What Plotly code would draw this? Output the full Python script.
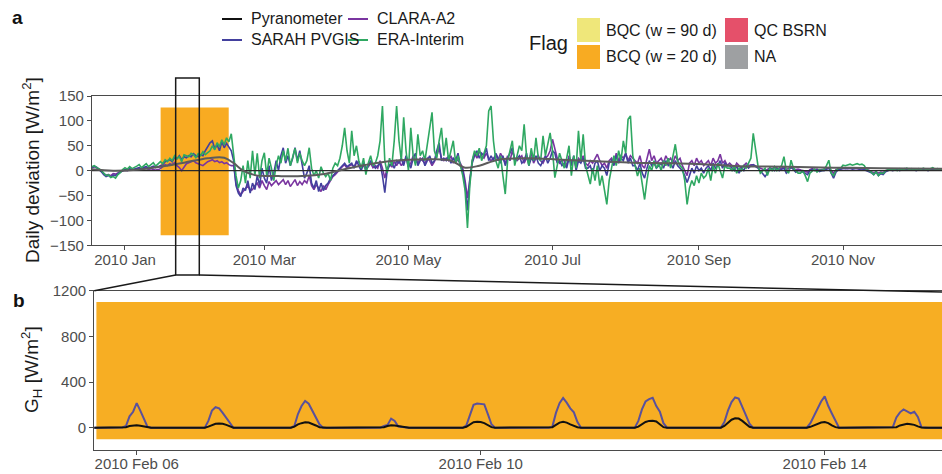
import pandas as pd
import plotly.graph_objects as go

W, H = 942, 474
FONT = "Liberation Sans, Arial, Helvetica, sans-serif"

# ---------------------------------------------------------------------------
# Panel a: daily deviation from the pyranometer [W/m2], one value per day
# starting 2009-12-18
# ---------------------------------------------------------------------------
first_day = "2009-12-18"

era_interim = [
    8, 10, 6, 4, 0, -6, -10, -8, -14, -12,
    -15, -8, -4, 2, 6, 3, 8, 4, 6, 9,
    12, 6, 10, 14, 8, 12, 16, 9, 14, 18,
    14, 22, 18, 25, 20, 30, 24, 28, 18, 32,
    30, 28, 35, 32, 26, 34, 30, 38, 32, 36,
    40, 50, 42, 56, 48, 62, 52, 66, 58, 74,
    30, -10, -35, -20, 10, -25, 20, -15, 40, -10,
    35, -15, 20, 36, -10, 25, 5, -20, 10, 30,
    15, 40, 20, 45, 10, 30, 45, 15, 35, 20,
    10, 20, 46, 5, -10, 0, -15, 8, -5, -12,
    -5, -20, 5, 15, 10, 25, 50, 86, 40, 15,
    80, 30, 50, 20, 5, 25, -8, 15, 30, 10,
    15, 30, 60, 130, 20, -5, 25, 10, 60, 130,
    60, 20, 107, 40, 0, 86, 30, 10, 73, 30,
    40, 20, 50, 80, 117, 40, 25, 60, 86, 30,
    66, 20, 40, 60, 15, 30, 10, -10, -40, -115,
    -30, 20, 40, 30, 45, 20, 35, 50, 120, 130,
    60, 20, 5, 30, -10, -47, 20, 40, 60, 10,
    30, 50, 40, 93, 30, 10, 45, 20, 66, 25,
    20, 70, 30, 55, 76, 40, -14, 10, 35, 20,
    5, 25, 50, -10, 30, 5, 80, 20, 73, 10,
    -10, -27, 5, -20, 10, -30, -10, -40, -68, -20,
    5, 30, 10, 40, 20, 60, 35, 103, 110, 30,
    10, -11, 5, -30, -58, -20, 10, 0, 20, 5,
    15, 0, 20, 10, 25, 5, 30, 53, 20, 10,
    5, -20, -68, -35, -20, -30, -10, -25, -5, -15,
    -10, 5, -20, 10, -5, 15, 0, -15, 10, 5,
    5, 0, 10, -5, 5, 0, 10, 5, 15, 25,
    75, 45, 10, -5, 0, 5, -10, 5, 0, 8,
    0, 5, 10, 28, 0, -5, 21, 5, 0, -5,
    -5, 0, -10, -22, -5, 0, 3, -3, 2, 0,
    3, 10, 21, -5, -10, 0, 5, 5, 11, 10,
    12, 13, 11, 12, 14, 12, 13, 10, 2, 0,
    -3, -8, -2, -10, -4, -6, 0, 2, 3, 1,
    2, 0, 4, 1, 3, 5, 2, 4, 1, 3,
    4, 2, 5, 3, 1, 4, 6, 3, 4, 2, 3,
]

sarah_pvgis = [
    6, 9, 7, 3, -2, -8, -12, -10, -13, -9,
    -10, -6, -3, 0, 2, 1, 4, 2, 3, 5,
    6, 4, 7, 8, 5, 7, 9, 6, 8, 10,
    12, 18, 20, 22, 18, 26, 24, 30, 22, 28,
    26, 30, 28, 34, 30, 28, 32, 30, 40, 48,
    56, 60, 44, 52, 40, 58, 46, 55, 48, 40,
    20, -30, -45, -52, -35, -40, -20, -45, -25, -38,
    -10, -30, 5, -15, -25, 10, -20, -5, 20, 0,
    30, 46, 15, 30, 10, 25, 46, 20, 40, 10,
    -15, -5, 10, -25, -35, -20, -42, -25, -40, -30,
    -25, -15, -10, -5, 0, 5, 10, 15, 8, 12,
    15, 5, 20, 10, 0, 15, 5, 10, 20, 12,
    5, 10, 15, -10, -44, 0, 10, 15, 5, 20,
    15, 25, 10, 30, 15, 5, 25, 35, 10, 20,
    25, 10, 20, 30, 15, 20, 40, 56, 20, 25,
    20, 30, 15, 25, 20, 35, 10, 0, -30, -80,
    -20, 15, 30, 40, 25, 35, 30, 45, 20, 30,
    20, 35, 25, 15, 30, 10, 25, 35, 46, 20,
    25, 30, 15, 20, 35, 10, 25, 20, 30, 15,
    10, 20, 30, 15, 25, 40, 35, 15, 20, 10,
    15, 5, 25, 10, 30, 0, 20, 15, 25, 5,
    5, 10, -5, 15, 20, 0, 10, 5, -10, 15,
    20, 10, 30, 15, 25, 20, 35, 15, 25, 10,
    10, 0, 15, -5, -15, 5, 20, 10, 15, 5,
    10, 15, 5, 20, 10, 15, 5, 20, 10, 5,
    0, -10, -24, -10, 5, -5, 10, 0, 5, -5,
    5, 10, 0, 15, 5, 10, 20, 5, 15, 10,
    10, 5, 0, 10, -5, 5, 0, 10, 5, 10,
    12, 8, 5, 0, -5, -12, -5, 5, 3, 0,
    5, 0, 3, 5, -5, 0, 8, 2, -3, 0,
    0, -3, -5, -8, 0, 3, 0, 2, -2, 0,
    0, 3, 5, -5, -15, -3, 2, 3, 5, 4,
    4, 5, 3, 4, 5, 3, 4, 2, 0, -2,
    -4, -8, -3, -10, -6, -8, -2, 0, 2, 0,
    1, 3, 0, 2, 4, 2, 3, 1, 2, 0,
    2, 1, 3, 2, 0, 2, 3, 1, 2, 1, 2,
]

clara_a2 = [
    5, 8, 6, 2, -3, -6, -9, -8, -10, -6,
    -7, -4, -2, 0, 1, 0, 2, 1, 2, 3,
    4, 3, 5, 5, 2, 4, 3, 1, 2, 4,
    8, 12, 10, 14, 12, 16, 10, 6, 0, 8,
    14, 16, 18, 20, 16, 14, 12, 10, 14, 18,
    20, 22, 18, 20, 16, 18, 14, 16, 12, 10,
    10, -25, -40, -48, -42, -35, -30, -40, -38, -30,
    -25, -35, -20, -30, -38, -22, -30, -25, -20, -28,
    -22, -18, -28, -20, -32, -24, -18, -30, -22, -28,
    -20, -25, -10, -30, -38, -28, -35, -42, -30, -38,
    -28, -20, -12, -8, -2, 2, 8, 12, 5, 10,
    12, 8, 15, 18, 5, 10, 2, 8, 15, 6,
    10, 5, 20, 5, -15, 5, 12, 8, 18, 10,
    20, 10, 18, 25, 8, 15, 30, 20, 15, 25,
    20, 15, 25, 20, 10, 18, 30, 45, 25, 20,
    25, 20, 30, 15, 25, 20, 15, 5, -20, -55,
    -15, 20, 35, 25, 40, 30, 25, 35, 25, 20,
    25, 30, 20, 35, 25, 15, 30, 20, 40, 25,
    20, 25, 30, 15, 25, 20, 35, 15, 25, 30,
    20, 15, 25, 30, 40, 63, 45, 25, 15, 20,
    20, 10, 30, 15, 25, 10, 25, 20, 30, 15,
    10, 20, 15, 25, 33, 20, 10, 15, 5, 20,
    25, 15, 35, 20, 30, 25, 35, 20, 30, 25,
    20, 15, 30, 10, 5, 25, 43, 20, 30, 15,
    20, 25, 15, 30, 20, 25, 15, 30, 20, 25,
    10, 0, -10, 15, 20, 10, 25, 15, 20, 10,
    15, 20, 10, 25, 15, 20, 33, 15, 20, 10,
    15, 10, 5, 15, 10, 5, 10, 15, 10, 12,
    12, 10, 8, 5, 3, 0, 2, 5, 4, 6,
    5, 3, 5, 8, 2, 5, 6, 4, 2, 3,
    2, 0, -2, -3, 2, 4, 2, 3, 1, 2,
    2, 4, 6, 0, -5, 2, 3, 4, 5, 5,
    4, 5, 4, 5, 4, 3, 4, 3, 2, 1,
    -2, -4, -2, -5, -3, -4, 0, 1, 2, 1,
    2, 1, 3, 2, 3, 2, 1, 3, 2, 2,
    2, 2, 3, 1, 2, 3, 2, 2, 3, 2, 2,
]

assert len(era_interim) == len(sarah_pvgis) == len(clara_a2)
days = pd.date_range(first_day, periods=len(era_interim), freq="D")
# the pyranometer is the reference, so its own deviation is zero every day
pyranometer_dev = [0] * len(days)

# smoothed seasonal trend of the deviations
trend_dates = [
    "2009-12-18", "2009-12-27", "2010-01-06", "2010-01-16", "2010-01-26",
    "2010-02-05", "2010-02-12", "2010-02-16", "2010-02-20", "2010-02-25",
    "2010-03-07", "2010-03-17", "2010-03-27", "2010-04-03", "2010-04-11",
    "2010-04-21", "2010-05-01", "2010-05-11", "2010-05-19", "2010-05-25",
    "2010-05-31", "2010-06-08", "2010-06-20", "2010-07-05", "2010-07-20",
    "2010-08-04", "2010-08-19", "2010-09-03", "2010-09-18", "2010-10-08",
    "2010-10-28", "2010-11-17", "2010-12-13",
]
trend_values = [
    3, 0, 2, 8, 16,
    25, 26, 15, 0, -9,
    -11, -11, -6, 2, 10,
    18, 22, 23, 20, 6,
    10, 22, 25, 22, 19,
    16, 15, 13, 9, 8,
    6, 5, 4,
]

# ---------------------------------------------------------------------------
# Panel b: hourly global horizontal irradiance [W/m2]; each row holds the
# 24 hours from 12:00 of one day to 11:00 of the next, from 2010-02-05 12:00
# ---------------------------------------------------------------------------
hourly_start = "2010-02-05 12:00"
Z8 = [0] * 8
sarah_hourly_rows = [
    Z8 + [2, 15, 100, 140, 215, 150, 80, 10] + Z8,
    Z8 + [60, 150, 180, 170, 130, 90, 50, 0] + Z8,
    Z8 + [15, 120, 190, 235, 210, 150, 90, 30] + Z8,
    Z8 + [0, 15, 25, 80, 60, 10, 5, 0] + Z8,
    Z8 + [20, 120, 200, 212, 210, 205, 120, 30] + Z8,
    Z8 + [10, 130, 215, 260, 220, 170, 135, 50] + Z8,
    Z8 + [60, 160, 230, 250, 262, 190, 140, 40] + Z8,
    Z8 + [50, 150, 225, 265, 255, 175, 110, 35] + Z8,
    Z8 + [40, 105, 170, 230, 275, 190, 125, 55] + Z8,
    [0] * 7 + [5, 90, 135, 160, 145, 125, 140, 95, 5] + [0] * 8,
]
pyranometer_hourly_rows = [
    Z8 + [0, 5, 15, 20, 22, 18, 10, 2] + Z8,
    Z8 + [10, 25, 35, 38, 35, 25, 10, 0] + Z8,
    Z8 + [10, 30, 40, 47, 45, 35, 20, 5] + Z8,
    Z8 + [0, 5, 15, 22, 20, 15, 10, 0] + Z8,
    Z8 + [8, 30, 48, 53, 50, 40, 20, 5] + Z8,
    Z8 + [5, 25, 45, 53, 45, 30, 15, 5] + Z8,
    Z8 + [10, 30, 50, 60, 62, 55, 30, 5] + Z8,
    Z8 + [15, 45, 70, 82, 80, 60, 30, 8] + Z8,
    Z8 + [8, 20, 35, 45, 50, 40, 20, 5] + Z8,
    Z8 + [5, 20, 30, 35, 30, 25, 12, 2] + Z8,
]
sarah_hourly = [v for row in sarah_hourly_rows for v in row] + [0]
pyranometer_hourly = [v for row in pyranometer_hourly_rows for v in row] + [0]
hours = pd.date_range(hourly_start, periods=len(sarah_hourly), freq="h")

# flagged periods
flag_bcq_a = ("2010-01-16 02:00", "2010-02-13 22:00", -130, 127)
flag_bcq_b = ("2010-02-05 12:45", "2010-02-16 00:00", -100, 1100)
zoom_window = ("2010-01-22 11:00", "2010-02-01 11:00")

# ---------------------------------------------------------------------------
COL_PYR = "#111111"
COL_CLARA = "#7a35a0"
COL_SARAH = "#43409e"
COL_ERA = "#2fa862"
COL_BQC = "#efe77a"
COL_BCQ = "#f8ab22"
COL_QC = "#e5506a"
COL_NA = "#9ea0a2"
AXIS_COL = "#4a4a4a"
TICK_COL = "#4d4d4d"


def px(x):
    return x / W


def py(y):
    return 1 - y / H


A_DOM_X = [px(92), 1.0]
A_DOM_Y = [py(245.3), py(96)]
B_DOM_X = [px(94.3), 1.0]
B_DOM_Y = [py(450), py(290.7)]
A_RANGE_X = ["2009-12-18 00:45", "2010-12-12 22:00"]
B_RANGE_X = ["2010-02-05 12:10", "2010-02-15 08:44"]


def date_to_paper(t, rng, dom):
    t0, t1 = pd.Timestamp(rng[0]), pd.Timestamp(rng[1])
    f = (pd.Timestamp(t) - t0) / (t1 - t0)
    return dom[0] + f * (dom[1] - dom[0])


fig = go.Figure()

# panel a traces
for name, vals, col in [("CLARA-A2", clara_a2, COL_CLARA),
                        ("SARAH PVGIS", sarah_pvgis, COL_SARAH),
                        ("ERA-Interim", era_interim, COL_ERA)]:
    fig.add_trace(go.Scatter(x=days, y=vals, mode="lines", name=name,
                             line=dict(color=col, width=1.6),
                             xaxis="x", yaxis="y", showlegend=False))
fig.add_trace(go.Scatter(x=days, y=pyranometer_dev, mode="lines", name="Pyranometer",
                         line=dict(color="#2a2a2a", width=1.2),
                         xaxis="x", yaxis="y", showlegend=False))
fig.add_trace(go.Scatter(x=pd.to_datetime(trend_dates), y=trend_values, mode="lines",
                         line=dict(color="#5c5c5c", width=2, shape="spline", smoothing=1.0),
                         xaxis="x", yaxis="y", showlegend=False, hoverinfo="skip"))

# panel b traces
fig.add_trace(go.Scatter(x=hours, y=sarah_hourly, mode="lines", name="SARAH PVGIS",
                         line=dict(color="#5a519c", width=2),
                         xaxis="x2", yaxis="y2", showlegend=False))
fig.add_trace(go.Scatter(x=hours, y=pyranometer_hourly, mode="lines", name="Pyranometer",
                         line=dict(color=COL_PYR, width=2),
                         xaxis="x2", yaxis="y2", showlegend=False))

shapes = []
# flag rectangles
shapes.append(dict(type="rect", xref="x", yref="y", layer="below",
                   x0=flag_bcq_a[0], x1=flag_bcq_a[1], y0=flag_bcq_a[2], y1=flag_bcq_a[3],
                   fillcolor=COL_BCQ, line=dict(width=0)))
shapes.append(dict(type="rect", xref="x2", yref="y2", layer="below",
                   x0=flag_bcq_b[0], x1=flag_bcq_b[1], y0=flag_bcq_b[2], y1=flag_bcq_b[3],
                   fillcolor="#f7ae23", line=dict(width=0)))

# zoom window and connectors to panel b
zx0 = date_to_paper(zoom_window[0], A_RANGE_X, A_DOM_X)
zx1 = date_to_paper(zoom_window[1], A_RANGE_X, A_DOM_X)
zb, zt = py(275), py(78)
shapes.append(dict(type="rect", xref="paper", yref="paper", x0=zx0, x1=zx1, y0=zb, y1=zt,
                   line=dict(color="#1a1a1a", width=1.5), fillcolor="rgba(0,0,0,0)"))
shapes.append(dict(type="line", xref="paper", yref="paper", x0=zx0, y0=zb,
                   x1=B_DOM_X[0], y1=B_DOM_Y[1], line=dict(color="#1a1a1a", width=1.5)))
shapes.append(dict(type="line", xref="paper", yref="paper", x0=zx1, y0=zb,
                   x1=1.0, y1=py(292), line=dict(color="#1a1a1a", width=1.5)))

annotations = []

# line legend
line_items = [("Pyranometer", COL_PYR, 222, 19), ("CLARA-A2", COL_CLARA, 348, 19),
              ("SARAH PVGIS", COL_SARAH, 222, 40), ("ERA-Interim", COL_ERA, 348, 40)]
for label, col, x, y in line_items:
    shapes.append(dict(type="line", xref="paper", yref="paper",
                       x0=px(x), x1=px(x + 20), y0=py(y), y1=py(y),
                       line=dict(color=col, width=2)))
    annotations.append(dict(text=label, xref="paper", yref="paper", x=px(x + 27), y=py(y),
                            xanchor="left", yanchor="middle", showarrow=False,
                            font=dict(family=FONT, size=16, color="#1a1a1a")))

# flag legend
annotations.append(dict(text="Flag", xref="paper", yref="paper", x=px(527), y=py(43),
                        xanchor="left", yanchor="middle", showarrow=False,
                        font=dict(family=FONT, size=20, color="#1a1a1a")))
flag_items = [("BQC (w = 90 d)", COL_BQC, 577, 18), ("BCQ (w = 20 d)", COL_BCQ, 577, 45),
              ("QC BSRN", COL_QC, 725, 18), ("NA", COL_NA, 725, 45)]
for label, col, x, y in flag_items:
    shapes.append(dict(type="rect", xref="paper", yref="paper",
                       x0=px(x), x1=px(x + 23), y0=py(y + 24), y1=py(y),
                       fillcolor=col, line=dict(width=0)))
    annotations.append(dict(text=label, xref="paper", yref="paper", x=px(x + 27), y=py(y + 12),
                            xanchor="left", yanchor="middle", showarrow=False,
                            font=dict(family=FONT, size=16, color="#1a1a1a")))

# panel letters and axis titles
for letter, x, y in [("a", 17, 18), ("b", 19, 300)]:
    annotations.append(dict(text=f"<b>{letter}</b>", xref="paper", yref="paper",
                            x=px(x), y=py(y), xanchor="center", yanchor="middle",
                            showarrow=False, font=dict(family=FONT, size=19, color="#111")))
annotations.append(dict(text="Daily deviation [W/m<sup>2</sup>]", xref="paper", yref="paper",
                        x=px(31), y=py(170), textangle=-90, xanchor="center", yanchor="middle",
                        showarrow=False, font=dict(family=FONT, size=19, color="#1a1a1a")))
annotations.append(dict(text="G<sub>H</sub> [W/m<sup>2</sup>]", xref="paper", yref="paper",
                        x=px(31), y=py(370), textangle=-90, xanchor="center", yanchor="middle",
                        showarrow=False, font=dict(family=FONT, size=19, color="#1a1a1a")))

axis_common = dict(showgrid=False, zeroline=False, showline=True, linecolor=AXIS_COL,
                   linewidth=1.3, ticks="outside", ticklen=4, tickcolor=AXIS_COL,
                   tickwidth=1.1, automargin=False,
                   tickfont=dict(family=FONT, size=15, color=TICK_COL))

fig.update_layout(
    width=W, height=H,
    margin=dict(l=0, r=0, t=0, b=0, autoexpand=False),
    paper_bgcolor="white", plot_bgcolor="white",
    showlegend=False,
    xaxis=dict(**axis_common, domain=A_DOM_X, anchor="y", type="date", range=A_RANGE_X,
               tick0="2010-01-01", dtick="M2", tickformat="%Y %b", mirror=True,
               ticklabelstandoff=-3),
    yaxis=dict(**axis_common, domain=A_DOM_Y, anchor="x", range=[-150, 150],
               tickvals=[-150, -100, -50, 0, 50, 100, 150]),
    xaxis2=dict(**axis_common, domain=B_DOM_X, anchor="y2", type="date", range=B_RANGE_X,
                tick0="2010-02-06", dtick=4 * 86400000, tickformat="%Y %b %d", mirror=True,
                ticklabelstandoff=-4),
    yaxis2=dict(**axis_common, domain=B_DOM_Y, anchor="x2", range=[-195, 1200],
                tickvals=[0, 400, 800, 1200]),
    shapes=shapes,
    annotations=annotations,
)

fig.write_html("out.html")
